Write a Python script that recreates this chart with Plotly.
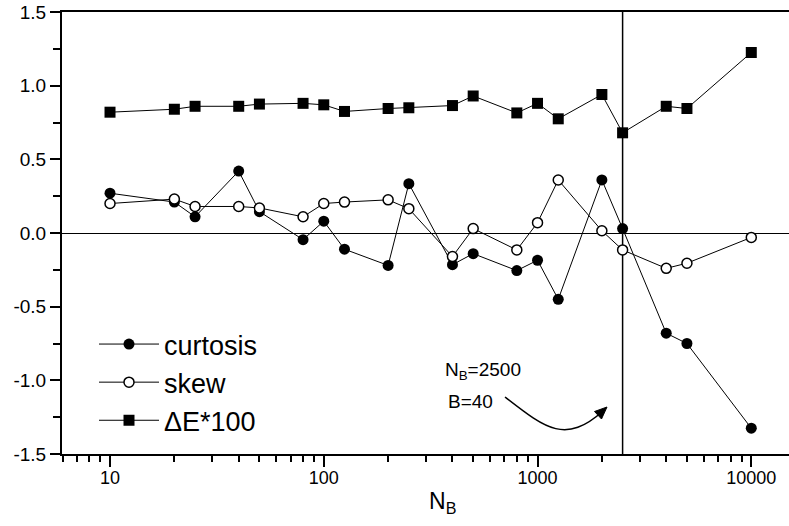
import plotly.graph_objects as go

# ---------------- data ----------------
n_b = [10, 20, 25, 40, 50, 80, 100, 125, 200, 250, 400, 500, 800, 1000, 1250,
       2000, 2500, 4000, 5000, 10000]
curtosis = [0.27, 0.21, 0.11, 0.42, 0.145, -0.045, 0.08, -0.11, -0.22, 0.335,
            -0.215, -0.14, -0.255, -0.185, -0.45, 0.36, 0.03, -0.68, -0.75, -1.325]
skew = [0.20, 0.23, 0.18, 0.18, 0.17, 0.11, 0.20, 0.21, 0.225, 0.165,
        -0.16, 0.03, -0.115, 0.07, 0.36, 0.015, -0.115, -0.24, -0.205, -0.03]
delta_e100 = [0.82, 0.84, 0.86, 0.86, 0.875, 0.88, 0.87, 0.825, 0.845, 0.85,
              0.865, 0.93, 0.815, 0.88, 0.775, 0.94, 0.68, 0.86, 0.845, 1.225]

marker_nb = [2500]          # vertical reference line position
y_limits = [-1.5, 1.5]

x_major = [10, 100, 1000, 10000]
x_major_text = ["10", "100", "1000", "10000"]
x_minor = [6, 7, 8, 9, 20, 30, 40, 50, 60, 70, 80, 90, 200, 300, 400, 500, 600,
           700, 800, 900, 2000, 3000, 4000, 5000, 6000, 7000, 8000, 9000]
y_major = [-1.5, -1.0, -0.5, 0.0, 0.5, 1.0, 1.5]
y_major_text = ["-1.5", "-1.0", "-0.5", "0.0", "0.5", "1.0", "1.5"]
y_minor = [-1.25, -0.75, -0.25, 0.25, 0.75, 1.25]

# ---------------- layout geometry (pixels) ----------------
W, H = 789, 526
L, R, T, B = 62, 0, 12, 72
PW, PH = W - L - R, H - T - B


def px(x):
    return (x - L) / PW


def py(y):
    return (H - B - y) / PH


FONT = "Liberation Sans, Arial, Helvetica, sans-serif"

fig = go.Figure()

fig.add_trace(go.Scatter(
    x=[marker_nb[0], marker_nb[0]], y=y_limits, mode="lines",
    line=dict(color="black", width=1.5), showlegend=False, hoverinfo="skip"))

fig.add_trace(go.Scatter(
    x=n_b, y=curtosis, name="curtosis", mode="lines+markers",
    line=dict(color="black", width=1),
    marker=dict(symbol="circle", size=11, color="black")))
fig.add_trace(go.Scatter(
    x=n_b, y=skew, name="skew", mode="lines+markers",
    line=dict(color="black", width=1),
    marker=dict(symbol="circle", size=10, color="white",
                line=dict(color="black", width=1.5))))
fig.add_trace(go.Scatter(
    x=n_b, y=delta_e100, name="ΔE*100", mode="lines+markers",
    line=dict(color="black", width=1),
    marker=dict(symbol="square", size=11, color="black")))

fig.update_layout(
    width=W, height=H,
    margin=dict(l=L, r=R, t=T, b=B, pad=0),
    paper_bgcolor="white", plot_bgcolor="white",
    font=dict(family=FONT, color="black", size=18),
    showlegend=True,
    legend=dict(x=px(94), y=py(320), xanchor="left", yanchor="top",
                bgcolor="rgba(0,0,0,0)", borderwidth=0,
                font=dict(size=27, family=FONT), itemwidth=60,
                tracegroupgap=0),
    xaxis=dict(type="log", range=[0.7754, 4.1764],
               tickmode="array", tickvals=x_major, ticktext=x_major_text,
               ticks="outside", ticklen=11, tickwidth=2, tickcolor="black",
               showline=True, linecolor="black", linewidth=2, mirror=True,
               showgrid=False, zeroline=False, ticklabelstandoff=-5,
               tickfont=dict(size=18, family=FONT),
               minor=dict(tickmode="array", tickvals=x_minor, ticks="outside",
                          ticklen=6, tickwidth=1.5, tickcolor="black",
                          showgrid=False)),
    yaxis=dict(range=y_limits, tickmode="array", tickvals=y_major,
               ticktext=y_major_text,
               ticks="outside", ticklen=10, tickwidth=2, tickcolor="black",
               showline=True, linecolor="black", linewidth=2, mirror=False,
               showgrid=False, zeroline=True, zerolinecolor="black",
               zerolinewidth=1,
               tickfont=dict(size=19, family=FONT),
               minor=dict(tickmode="array", tickvals=y_minor, ticks="outside",
                          ticklen=7, tickwidth=1.5, tickcolor="black",
                          showgrid=False)),
)

# axis title N_B
fig.add_annotation(text="N<sub>B</sub>", xref="paper", yref="paper",
                   x=px(443), y=py(502), xanchor="center", yanchor="middle",
                   showarrow=False, font=dict(size=23, family=FONT))

# annotation text
fig.add_annotation(text="N<sub>B</sub>=2500", xref="paper", yref="paper",
                   x=px(443), y=py(371), xanchor="left", yanchor="middle",
                   showarrow=False, font=dict(size=19, family=FONT))
fig.add_annotation(text="B=40", xref="paper", yref="paper",
                   x=px(446), y=py(401), xanchor="left", yanchor="middle",
                   showarrow=False, font=dict(size=19, family=FONT))

# curved arrow
p0, c1, c2, p3 = (505, 397), (545, 428), (565, 445), (603, 411)
path = "M {} {} C {} {}, {} {}, {} {}".format(
    px(p0[0]), py(p0[1]), px(c1[0]), py(c1[1]), px(c2[0]), py(c2[1]),
    px(p3[0]), py(p3[1]))
fig.add_shape(type="path", path=path, xref="paper", yref="paper",
              line=dict(color="black", width=1.5))
tip, b1, b2 = (607, 407), (601.5, 419), (594.5, 411.5)
head = "M {} {} L {} {} L {} {} Z".format(
    px(tip[0]), py(tip[1]), px(b1[0]), py(b1[1]), px(b2[0]), py(b2[1]))
fig.add_shape(type="path", path=head, xref="paper", yref="paper",
              fillcolor="black", line=dict(color="black", width=1))

fig.write_html("out.html")
